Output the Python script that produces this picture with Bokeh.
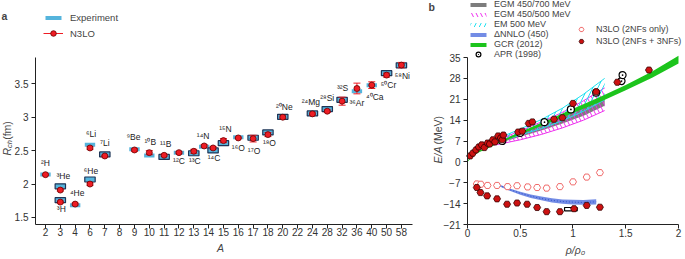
import math
from bokeh.plotting import figure
from bokeh.models import (ColumnDataSource, Range1d, FixedTicker, Label,
                          Legend, LegendItem)
from bokeh.layouts import row
from bokeh.embed import file_html
from bokeh.resources import INLINE
from bokeh.core.properties import value

FONT = "Liberation Sans"

# ---------------- panel a data ----------------
A_categories = ["2", "3", "4", "6", "7", "8", "9", "10", "11", "12", "13", "14",
                "15", "16", "17", "18", "20", "22", "24", "28", "32", "36", "40",
                "50", "58"]
nuc_A = [2, 3, 3, 4, 6, 6, 7, 9, 10, 11, 12, 13, 14, 14, 15, 16, 17, 18, 20,
         24, 28, 32, 36, 40, 50, 58]
nuc_symbol = ["H", "He", "H", "He", "Li", "He", "Li", "Be", "B", "B", "C", "C",
              "N", "C", "N", "O", "O", "O", "Ne", "Mg", "Si", "S", "Ar", "Ca",
              "Cr", "Ni"]
r_exp = [2.142, 1.966, 1.759, 1.681, 2.589, 2.068, 2.444, 2.519, 2.428, 2.406,
         2.470, 2.461, 2.558, 2.503, 2.612, 2.699, 2.693, 2.773, 3.006, 3.057,
         3.122, 3.261, 3.390, 3.478, 3.659, 3.776]
r_n3lo = [2.14, 1.91, 1.73, 1.70, 2.54, 2.00, 2.42, 2.51, 2.47, 2.43, 2.47,
          2.49, 2.57, 2.54, 2.65, 2.69, 2.68, 2.74, 3.00, 3.05, 3.09, 3.24,
          3.43, 3.48, 3.63, 3.78]
r_n3lo_err = [0.01, 0.015, 0.015, 0.015, 0.02, 0.02, 0.012, 0.02, 0.03, 0.015,
              0.015, 0.03, 0.02, 0.02, 0.03, 0.012, 0.05, 0.03, 0.02, 0.015,
              0.02, 0.06, 0.08, 0.05, 0.03, 0.04]
exp_outlined = [False, True, True, False, False, True, True, False, False, True,
                False, True, False, True, True, False, True, True, True, True,
                True, True, False, False, True, True]

# ---------------- panel b data ----------------
egm700_rho = [0.3, 0.5, 0.7, 0.9, 1.1, 1.3]
egm700_lo = [6.3, 8.4, 10.5, 12.9, 15.5, 18.8]
egm700_hi = [7.2, 9.9, 12.6, 15.4, 18.3, 21.6]

egm500_rho = [0.25, 0.5, 0.7, 0.9, 1.1, 1.3]
egm500_lo = [5.6, 7.4, 9.2, 11.4, 14.0, 17.2]
egm500_hi = [6.8, 10.4, 13.4, 16.6, 20.5, 24.8]

em500_rho = [0.2, 0.35, 0.5, 0.7, 0.9, 1.1, 1.3]
em500_lo = [5.2, 7.3, 9.0, 11.2, 13.8, 17.0, 20.8]
em500_hi = [5.8, 8.8, 11.0, 14.2, 18.0, 22.7, 28.0]

gcr_rho = [0.0, 0.05, 0.1, 0.25, 0.5, 0.75, 1.0, 1.25, 1.5, 1.75, 2.0]
gcr_lo = [0.0, 2.0, 3.1, 5.5, 9.2, 12.8, 16.4, 20.0, 24.0, 28.2, 33.0]
gcr_hi = [0.3, 2.4, 3.6, 6.0, 10.0, 13.9, 17.8, 21.7, 25.8, 30.3, 35.6]

dnnlo_rho = [0.3, 0.4, 0.5, 0.6, 0.7, 0.8, 0.9, 1.0, 1.1, 1.22]
dnnlo_lo = [-8.2, -9.7, -11.0, -12.1, -12.9, -13.6, -14.0, -14.3, -14.4, -14.3]
dnnlo_hi = [-7.6, -8.9, -10.0, -10.9, -11.6, -12.2, -12.6, -12.7, -12.8, -12.5]
dnnlo_mid = [-7.9, -9.3, -10.5, -11.5, -12.3, -12.9, -13.3, -13.5, -13.6, -13.4]

apr_rho = [0.33, 0.5, 0.73, 0.98, 1.22, 1.46, 1.47]
apr_E = [7.0, 9.7, 13.3, 17.6, 23.2, 27.1, 29.1]

pnm_rho = [0.025, 0.05, 0.08, 0.107, 0.135, 0.16, 0.19, 0.21, 0.24, 0.26, 0.29,
           0.315, 0.33, 0.34, 0.48, 0.52, 0.58, 0.615, 0.82, 0.90, 1.0, 1.22,
           1.42, 1.72]
pnm_E = [2.0, 2.9, 4.0, 5.0, 5.7, 4.8, 6.3, 6.0, 7.4, 6.7, 8.7, 8.0, 7.4, 9.0,
         10.0, 10.3, 12.9, 13.4, 14.3, 14.8, 19.6, 23.5, 26.7, 30.8]

snm2_rho = [0.088, 0.126, 0.19, 0.28, 0.38, 0.47, 0.57, 0.66, 0.75, 0.876, 1.0,
            1.13, 1.255]
snm2_E = [-7.4, -7.5, -7.9, -7.9, -8.3, -8.0, -8.4, -8.6, -8.8, -8.3, -6.7,
          -5.1, -3.6]
snm3_rho = [0.088, 0.123, 0.186, 0.28, 0.375, 0.47, 0.565, 0.66, 0.75, 0.876,
            1.01, 1.13, 1.255]
snm3_E = [-8.6, -10.3, -11.4, -12.4, -14.2, -13.8, -14.2, -15.3, -16.7, -16.7,
          -15.7, -14.6, -15.2]

sat_rho = [0.92, 1.04]
sat_E = [-16.4, -15.3]

# ---------------- layout helpers (not data) ----------------
SUP = str.maketrans("0123456789", "⁰¹²³⁴⁵⁶⁷⁸⁹")
nuc_label = [str(a).translate(SUP) + s for a, s in zip(nuc_A, nuc_symbol)]
dodge = {"¹⁴N": -0.3, "¹⁴C": 0.3}
label_offset = {
    "²H": (0, -12), "³He": (3, -10), "³H": (1, 9), "⁴He": (2, -12),
    "⁶Li": (1, -11), "⁶He": (1, -8.5), "⁷Li": (0, -11.5), "⁹Be": (-1, -12),
    "¹⁰B": (1, -13.5), "¹¹B": (1.5, -12.5), "¹²C": (0, 8), "¹³C": (1, 7.5),
    "¹⁴N": (-1, -10.5), "¹⁴C": (1, 8), "¹⁵N": (2, -14), "¹⁶O": (0, 11),
    "¹⁷O": (1, 13.5), "¹⁸O": (1.5, 11), "²⁰Ne": (1.5, -10), "²⁴Mg": (-1.5, -11.5),
    "²⁸Si": (0, -11.5), "³²S": (0.5, -12), "³⁶Ar": (0, 12), "⁴⁰Ca": (3, 11.5),
    "⁵⁰Cr": (2, 12), "⁵⁸Ni": (1, 11),
}

BLUE = "#55b4dc"
NAVY = "#1d3557"
RED = "#ee1c24"


def style(p, x_at, y_at, x_bounds, y_bounds):
    p.xgrid.visible = False
    p.ygrid.visible = False
    p.outline_line_color = None
    p.background_fill_color = "white"
    p.border_fill_color = "white"
    p.xaxis.fixed_location = x_at
    p.yaxis.fixed_location = y_at
    p.xaxis.bounds = x_bounds
    p.yaxis.bounds = y_bounds
    for ax in p.axis:
        ax.axis_line_color = "#222222"
        ax.major_tick_line_color = "#222222"
        ax.minor_tick_line_color = None
        ax.major_tick_in = 0
        ax.major_tick_out = 4
        ax.major_label_text_font = FONT
        ax.major_label_text_font_size = "10px"
        ax.major_label_text_color = "#333333"
    p.xaxis.major_label_standoff = 0
    p.yaxis.major_label_standoff = 3


def style_legend(lg, size, standoff):
    lg.label_text_font = FONT
    lg.label_text_font_size = size
    lg.label_standoff = standoff
    lg.padding = 0
    lg.margin = 0
    lg.spacing = 0
    lg.border_line_color = None
    lg.background_fill_alpha = 0


# ================= panel a =================
pa = figure(width=423, height=259, output_backend="svg", toolbar_location=None,
            x_range=Range1d(-3.034, 25.489), y_range=Range1d(0.871, 4.7465),
            min_border_left=0, min_border_right=0, min_border_top=0,
            min_border_bottom=0)
style(pa, 1.395, -0.674, (-0.674, 24.75), (1.395, 3.893))
pa.xaxis.ticker = FixedTicker(ticks=list(range(len(A_categories))))
pa.xaxis.major_label_overrides = {i: c for i, c in enumerate(A_categories)}
pa.yaxis.ticker = FixedTicker(ticks=[1.5, 2.0, 2.5, 3.0, 3.5])

xs = [A_categories.index(str(a)) + dodge.get(l, 0.0) for a, l in zip(nuc_A, nuc_label)]


def cds(idx):
    return ColumnDataSource(dict(
        x=[xs[i] for i in idx],
        exp=[r_exp[i] for i in idx],
        n3lo=[r_n3lo[i] for i in idx],
        lo=[r_n3lo[i] - r_n3lo_err[i] for i in idx],
        hi=[r_n3lo[i] + r_n3lo_err[i] for i in idx],
        lab=[nuc_label[i] for i in idx],
        dx=[label_offset[nuc_label[i]][0] for i in idx],
        dy=[label_offset[nuc_label[i]][1] for i in idx],
    ))


all_idx = list(range(len(nuc_A)))
src_all = cds(all_idx)
src_plain = cds([i for i in all_idx if not exp_outlined[i]])
src_box = cds([i for i in all_idx if exp_outlined[i]])

r_exp_plain = pa.rect(x="x", y="exp", width=0.7, height=4, height_units="screen",
                      source=src_plain, fill_color=BLUE, line_color=None)
pa.rect(x="x", y="exp", width=0.7, height=5, height_units="screen",
        source=src_box, fill_color=BLUE, line_color=NAVY, line_width=1.2)
r_stem = pa.segment(x0="x", y0="lo", x1="x", y1="hi", source=src_all,
                    line_color=RED, line_width=1)
r_cap = pa.scatter(x="x", y="hi", source=src_all, marker="dash", size=7,
                   line_color=RED, line_width=1)
pa.scatter(x="x", y="lo", source=src_all, marker="dash", size=7,
           line_color=RED, line_width=1)
r_dot = pa.scatter(x="x", y="n3lo", source=src_all, marker="circle", size=6,
                   fill_color=RED, line_color="#6a0000", line_width=0.8)
pa.text(x="x", y="exp", text="lab", x_offset="dx", y_offset="dy", source=src_all,
        text_font=value(FONT), text_font_size="8.5px", text_align="center",
        text_baseline="middle", text_color="#222222")

leg_a1 = Legend(items=[LegendItem(label="Experiment", renderers=[r_exp_plain])],
                location=(43, 236), glyph_width=20, glyph_height=5)
leg_a2 = Legend(items=[LegendItem(label="N3LO", renderers=[r_stem, r_cap, r_dot])],
                location=(43, 219), glyph_width=20, glyph_height=14)
for lg in (leg_a1, leg_a2):
    style_legend(lg, "9.5px", 7)
    pa.add_layout(lg)

pa.add_layout(Label(x=-2.967, y=4.515, text="a", text_font=FONT,
                    text_font_size="10.5px", text_font_style="bold",
                    text_align="left", text_baseline="middle"))
pa.add_layout(Label(x=11.8, y=1.036, text="A", text_font=FONT,
                    text_font_size="10.5px", text_font_style="italic",
                    text_align="center", text_baseline="middle"))
pa.add_layout(Label(x=-2.58, y=2.427, text="R", text_font=FONT,
                    text_font_size="10.5px", text_font_style="italic",
                    angle=math.pi / 2, text_align="left", text_baseline="middle"))
pa.add_layout(Label(x=-2.41, y=2.539, text="ch", text_font=FONT,
                    text_font_size="7.5px", text_font_style="italic",
                    angle=math.pi / 2, text_align="left", text_baseline="middle"))
pa.add_layout(Label(x=-2.58, y=2.662, text="(fm)", text_font=FONT,
                    text_font_size="10.5px", angle=math.pi / 2,
                    text_align="left", text_baseline="middle"))

# ================= panel b =================
pb = figure(width=262, height=259, output_backend="svg", toolbar_location=None,
            x_range=Range1d(-0.4171, 2.0664), y_range=Range1d(-32.737, 54.117),
            min_border_left=0, min_border_right=0, min_border_top=0,
            min_border_bottom=0)
style(pb, -21, 0, (0, 2.0), (-21, 35))
pb.xaxis.ticker = FixedTicker(ticks=[0, 0.5, 1.0, 1.5, 2.0])
pb.xaxis.major_label_overrides = {0: "0"}
pb.yaxis.ticker = FixedTicker(ticks=[-21, -14, -7, 0, 7, 14, 21, 28, 35])
pb.yaxis.major_label_overrides = {-21: "−21", -14: "−14", -7: "−7"}

GRAY = "#7d7d7d"
MAG = "#ee30ee"
CYAN = "#22e0f0"
GREEN = "#1cc41c"
DBLUE = "#5a78e0"

r_gray = pb.varea(x=egm700_rho, y1=egm700_lo, y2=egm700_hi, fill_color=GRAY)
r_mag = pb.varea(x=egm500_rho, y1=egm500_lo, y2=egm500_hi, fill_alpha=0,
                 hatch_pattern="\\", hatch_color=MAG, hatch_scale=9,
                 hatch_weight=1)
pb.line(egm500_rho, egm500_lo, line_color=MAG, line_width=1)
pb.line(egm500_rho, egm500_hi, line_color=MAG, line_width=1)
r_cyan = pb.varea(x=em500_rho, y1=em500_lo, y2=em500_hi, fill_alpha=0,
                  hatch_pattern="/", hatch_color=CYAN, hatch_scale=10,
                  hatch_weight=1)
pb.line(em500_rho, em500_lo, line_color=CYAN, line_width=1)
pb.line(em500_rho, em500_hi, line_color=CYAN, line_width=1)
r_green = pb.varea(x=gcr_rho, y1=gcr_lo, y2=gcr_hi, fill_color=GREEN)
r_blue = pb.varea(x=dnnlo_rho, y1=dnnlo_lo, y2=dnnlo_hi, fill_color=DBLUE,
                  fill_alpha=0.85)
pb.line(dnnlo_rho, dnnlo_mid, line_color="#3050c8", line_width=1,
        line_dash="1 2")

pb.quad(left=sat_rho[0], right=sat_rho[1], bottom=sat_E[0], top=sat_E[1],
        fill_color="white", line_color="black", line_width=1.2)

r_apr = pb.scatter(apr_rho, apr_E, marker="circle_dot", size=7,
                   fill_color="white", line_color="black", line_width=1.2)
r_open = pb.scatter(snm2_rho, snm2_E, marker="hex", size=7,
                    fill_color="white", line_color="#f06a6a", line_width=1)
pb.scatter(pnm_rho, pnm_E, marker="hex", size=7, fill_color="#cc1111",
           line_color="#3a0000", line_width=0.8)
r_fill = pb.scatter(snm3_rho, snm3_E, marker="hex", size=7,
                    fill_color="#cc1111", line_color="#3a0000", line_width=0.8)
r_eb_open = pb.line(x=[], y=[], line_color="#f06a6a", line_width=1)
r_eb_fill = pb.line(x=[], y=[], line_color="#e04040", line_width=1)

leg_b1 = Legend(items=[
    LegendItem(label="EGM 450/700 MeV", renderers=[r_gray]),
    LegendItem(label="EGM 450/500 MeV", renderers=[r_mag]),
    LegendItem(label="EM 500 MeV", renderers=[r_cyan]),
    LegendItem(label="ΔNNLO (450)", renderers=[r_blue]),
    LegendItem(label="GCR (2012)", renderers=[r_green]),
], location=(45, 210), glyph_width=20, glyph_height=5)
leg_b2 = Legend(items=[LegendItem(label="APR (1998)", renderers=[r_apr])],
                location=(45, 199), glyph_width=20, glyph_height=12)
leg_b3 = Legend(items=[
    LegendItem(label="N3LO (2NFs only)", renderers=[r_eb_open, r_open]),
    LegendItem(label="N3LO (2NFs + 3NFs)", renderers=[r_eb_fill, r_fill]),
], location=(149, 212), glyph_width=18, glyph_height=12)
for lg in (leg_b1, leg_b2, leg_b3):
    style_legend(lg, "9px", 6)
    pb.add_layout(lg)

pb.add_layout(Label(x=-0.370, y=51.9, text="b", text_font=FONT,
                    text_font_size="10.5px", text_font_style="bold",
                    text_align="left", text_baseline="middle"))
pb.add_layout(Label(x=1.024, y=-29.7, text="ρ/ρ₀", text_font=FONT,
                    text_font_size="10.5px", text_font_style="italic",
                    text_align="center", text_baseline="middle"))
pb.add_layout(Label(x=-0.284, y=-0.54, text="E/A", text_font=FONT,
                    text_font_size="10.5px", text_font_style="italic",
                    angle=math.pi / 2, text_align="left", text_baseline="middle"))
pb.add_layout(Label(x=-0.284, y=5.83, text="(MeV)", text_font=FONT,
                    text_font_size="10.5px", angle=math.pi / 2,
                    text_align="left", text_baseline="middle"))

layout = row(pa, pb)
open("out.html", "w").write(file_html(layout, INLINE))
